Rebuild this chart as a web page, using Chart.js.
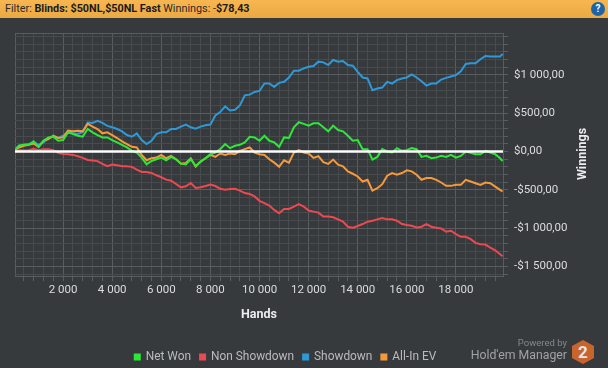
<!DOCTYPE html>
<html>
<head>
<meta charset="utf-8">
<script src="https://cdn.jsdelivr.net/npm/chart.js@4"></script>
<style>
  body { margin: 0; background: #373a3d; width: 608px; height: 368px; overflow: hidden; position: relative; font-family: Roboto, sans-serif; }
  canvas { position: absolute; left: 0; top: 0; }
  #bar { position: absolute; left: 0; top: 0; width: 608px; height: 18px; background: linear-gradient(#f7b64f, #eba943); color: #2a2a2a; font-size: 10.8px; line-height: 18px; white-space: pre; text-indent: 5px; }
  #bar b { color: #1a1a1a; }
  #help { position: absolute; left: 591px; top: 2px; width: 14px; height: 14px; border-radius: 50%; background: #1c63a8; color: #fff; font-size: 10px; font-weight: bold; line-height: 14px; text-align: center; text-indent: 0; }
  .pw { position: absolute; white-space: nowrap; text-align: right; right: 41px; }
  #hex { position: absolute; left: 572px; top: 340px; width: 22px; height: 24px; background: #c8652c; clip-path: polygon(50% 0, 100% 25%, 100% 75%, 50% 100%, 0 75%, 0 25%); color: #e6e6e6; font-size: 17px; font-weight: bold; line-height: 24px; text-align: center; }
</style>
</head>
<body>
<canvas id="myChart" width="608" height="368"></canvas>
<div id="bar">Filter: <b>Blinds: $50NL,$50NL Fast</b> Winnings: -<b>$78,43</b><div id="help">?</div></div>
<div class="pw" style="top:337px;font-size:9.5px;color:#868889">Powered by</div>
<div class="pw" style="top:348px;font-size:12.3px;color:#a0a2a4">Hold'em Manager</div>
<div id="hex">2</div>
<script>
const hands = [40, 200, 400, 600, 800, 1000, 1200, 1400, 1600, 1800, 2000, 2200, 2400, 2600, 2800, 3000, 3200, 3400, 3600, 3800, 4000, 4200, 4400, 4600, 4800, 5000, 5200, 5400, 5600, 5800, 6000, 6200, 6400, 6600, 6800, 7000, 7200, 7400, 7600, 7800, 8000, 8200, 8400, 8600, 8800, 9000, 9200, 9400, 9600, 9800, 10000, 10200, 10400, 10600, 10800, 11000, 11200, 11400, 11600, 11800, 12000, 12200, 12400, 12600, 12800, 13000, 13200, 13400, 13600, 13800, 14000, 14200, 14400, 14600, 14800, 15000, 15200, 15400, 15600, 15800, 16000, 16200, 16400, 16600, 16800, 17000, 17200, 17400, 17600, 17800, 18000, 18200, 18400, 18600, 18800, 19000, 19200, 19400, 19600, 19800, 19900];

const netWon = [22, 75, 88, 88, 132, 61, 140, 184, 193, 140, 149, 250, 228, 206, 193, 294, 250, 215, 184, 184, 149, 119, 88, 53, 9, -13, -79, -167, -123, -101, -79, -114, -70, -101, -158, -167, -101, -189, -132, -88, -35, -13, 31, 97, 44, 75, 88, 119, 193, 184, 140, 206, 140, 119, 61, 184, 176, 316, 382, 360,
  338, 369, 369, 316, 263, 338, 281, 263, 206, 140, 149, 31, 31, -105, -70, 31, 0, -13, 44, 9, 18, 44, 31, -70, -57, -88, -79, -57, -70, -44, -79, -57, 0, -18, -35, -35, 9, -13, -35, -88, -123];
const nonShowdown = [9, 18, 13, 18, 35, 18, 31, 31, 18, -18, -31, -35, -44, -61, -83, -110, -116, -125, -160, -191, -169, -178, -191, -191, -200, -235, -266, -266, -279, -310, -336, -367, -380, -424, -467, -454, -411, -476, -467, -450, -432, -450, -485, -498, -489, -485, -511, -542, -555, -586, -643, -674, -705, -762, -806, -749, -749, -718, -687, -718,
  -770, -784, -797, -849, -849, -858, -885, -915, -981, -994, -972, -946, -915, -902, -885, -867, -885, -885, -902, -946, -959, -968, -990, -981, -946, -981, -994, -1003, -1047, -1034, -1078, -1113, -1113, -1144, -1192, -1210, -1214, -1253, -1288, -1341, -1367];
const showdown = [22, 75, 88, 97, 123, 88, 119, 176, 193, 176, 206, 255, 237, 228, 255, 378, 373, 400, 373, 334, 316, 294, 263, 215, 193, 237, 149, 97, 140, 228, 250, 250, 294, 294, 325, 351, 316, 298, 325, 342, 351, 470, 514, 588, 536, 544, 601, 733, 742, 777, 790, 887, 887, 843, 896, 909, 966, 1054, 1054, 1084,
  1106, 1115, 1172, 1163, 1128, 1194, 1172, 1181, 1128, 1119, 1040, 966, 953, 799, 821, 834, 909, 887, 931, 953, 966, 1005, 966, 917, 860, 887, 887, 939, 961, 979, 997, 1045, 1141, 1150, 1150, 1203, 1247, 1238, 1238, 1238, 1273];
const allInEv = [22, 53, 75, 88, 105, 61, 140, 162, 206, 176, 184, 272, 263, 272, 263, 360, 325, 294, 237, 250, 215, 176, 132, 97, 61, 53, -44, -114, -88, -79, -44, -88, -57, -101, -158, -149, -88, -198, -132, -88, -44, -70, -26, -44, -26, -35, 9, 31, 53, -13, -35, -44, -101, -145, -198, -114, -145, -13, 18, -13,
  -26, -83, -61, -140, -162, -105, -171, -193, -259, -290, -325, -391, -369, -509, -479, -426, -316, -281, -303, -281, -246, -259, -303, -369, -347, -347, -369, -404, -448, -448, -435, -435, -369, -391, -413, -435, -404, -413, -457, -500, -522];

const xTicks = [2000, 4000, 6000, 8000, 10000, 12000, 14000, 16000, 18000];
const xTickLabels = ["2 000", "4 000", "6 000", "8 000", "10 000", "12 000", "14 000", "16 000", "18 000"];
const yTicks = [1000, 500, 0, -500, -1000, -1500];
const yTickLabels = ["$1 000,00", "$500,00", "$0,00", "-$500,00", "-$1 000,00", "-$1 500,00"];

const font = "Roboto, sans-serif";
const xMin = 40;
const xMax = 19918;
const yMin = -1625;
const yMax = 1546;
const major = "#5a5d60";
const minor = "#484b4e";

const toPoints = (values) => values.map((v, i) => ({ x: hands[i], y: v }));
const line = (label, values, color, order) => ({
  label: label,
  data: toPoints(values),
  borderColor: color,
  backgroundColor: color,
  borderWidth: 2,
  pointRadius: 0,
  order: order,
});
const tickValue = (c) => c.tick && c.tick.value;

// legend sits left of the canvas middle and low down, winnings title reads upwards
const tweaks = {
  id: "tweaks",
  beforeDraw(chart) {
    chart.legend.left -= 26;
    chart.legend.right -= 26;
    chart.legend.top += 5;
    chart.legend.bottom += 5;
  },
  afterDraw(chart) {
    const ctx = chart.ctx;
    ctx.save();
    ctx.translate(583, 154);
    ctx.rotate(-Math.PI / 2);
    ctx.font = "bold 12.5px " + font;
    ctx.fillStyle = "#ececec";
    ctx.textAlign = "center";
    ctx.textBaseline = "middle";
    ctx.fillText("Winnings", 0, 0);
    ctx.restore();
    chart.legend.left += 26;
    chart.legend.right += 26;
    chart.legend.top -= 5;
    chart.legend.bottom -= 5;
  },
};

const ctx = document.getElementById("myChart");
const myChart = new Chart(ctx, {
  type: "line",
  plugins: [tweaks],
  data: {
    datasets: [
      {
        label: "zero",
        data: [{ x: xMin, y: 0 }, { x: xMax, y: 0 }],
        borderColor: "#ffffff",
        backgroundColor: "#ffffff",
        borderWidth: 2.5,
        pointRadius: 0,
        order: 0,
      },
      line("Net Won", netWon, "#2be936", 1),
      line("Non Showdown", nonShowdown, "#ee4850", 4),
      line("Showdown", showdown, "#2f99d8", 3),
      line("All-In EV", allInEv, "#f6993a", 2),
    ],
  },
  options: {
    responsive: false,
    animation: false,
    layout: { padding: { left: 15, top: 33, right: 0, bottom: 0 } },
    plugins: {
      tooltip: { enabled: false },
      legend: {
        position: "bottom",
        labels: {
          filter: (item) => item.text !== "zero",
          sort: (a, b) => a.datasetIndex - b.datasetIndex,
          boxWidth: 5,
          boxHeight: 5,
          padding: 9,
          color: "#b9bbbd",
          font: { family: font, size: 11.9 },
        },
      },
    },
    scales: {
      x: {
        type: "linear",
        min: xMin,
        max: xMax,
        afterFit: (axis) => { axis.height = 61; },
        // a 400 step gets stretched by chart.js since the range is almost whole, so set them here
        afterBuildTicks: (axis) => {
          const list = [{ value: xMin }];
          for (let h = 400; h < xMax; h += 400) list.push({ value: h });
          axis.ticks = list;
        },
        grid: {
          color: (c) => (xTicks.includes(tickValue(c)) || tickValue(c) === xMin ? major : minor),
          tickColor: (c) => (tickValue(c) === xMin ? "transparent" : major),
          tickLength: 5,
        },
        border: { color: major },
        ticks: {
          autoSkip: false,
          maxRotation: 0,
          color: "#dcdcdc",
          padding: 2,
          font: { family: font, size: 11.5 },
          callback: (v) => (xTicks.includes(v) ? xTickLabels[xTicks.indexOf(v)] : ""),
        },
        title: {
          display: true,
          text: "Hands",
          color: "#ececec",
          padding: { top: 8, bottom: 15 },
          font: { family: font, size: 12.5, weight: "bold" },
        },
      },
      y: {
        position: "right",
        min: yMin,
        max: yMax,
        afterFit: (axis) => { axis.width = 105; },
        afterBuildTicks: (axis) => {
          axis.ticks.push({ value: yMax });
        },
        grid: {
          color: (c) => (yTicks.includes(tickValue(c)) || tickValue(c) === yMax ? major : minor),
          tickColor: (c) => (tickValue(c) === yMax ? "transparent" : major),
          tickLength: 5,
        },
        border: { color: major },
        ticks: {
          stepSize: 100,
          includeBounds: false,
          autoSkip: false,
          color: "#dcdcdc",
          padding: 6,
          font: { family: font, size: 11.5 },
          callback: (v) => (yTicks.includes(v) ? yTickLabels[yTicks.indexOf(v)] : ""),
        },
      },
    },
  },
});
</script>
</body>
</html>
